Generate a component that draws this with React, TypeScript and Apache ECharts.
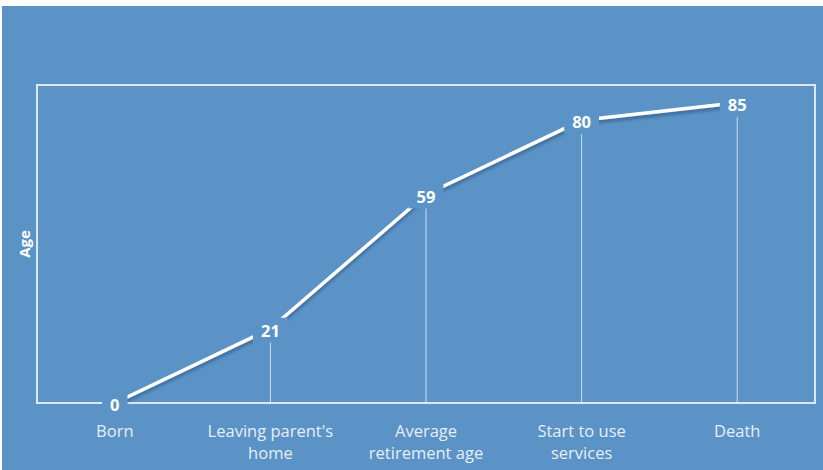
import React, { useEffect, useRef } from "react";
import * as echarts from "echarts";

const categories = [
  "Born",
  "Leaving parent's\nhome",
  "Average\nretirement age",
  "Start to use\nservices",
  "Death",
];
const ages = [0, 21, 59, 80, 85];
const axisName = "Age";

const BG = "#5b93c6";

export default function App() {
  const ref = useRef<HTMLDivElement>(null);
  useEffect(() => {
    if (!ref.current) return;
    const chart = echarts.init(ref.current, undefined, { renderer: "svg" });
    chart.setOption({
      animation: false,
      backgroundColor: BG,
      graphic: [
        { type: "rect", shape: { x: 0, y: 0, width: 823, height: 6 }, style: { fill: "#ffffff" }, z: 100 },
        { type: "rect", shape: { x: 0, y: 0, width: 2, height: 470 }, style: { fill: "#ffffff" }, z: 100 },
      ],
      grid: {
        left: 37,
        right: 8,
        top: 85,
        bottom: 67,
        show: true,
        backgroundColor: "transparent",
        borderColor: "#dbe8f4",
        borderWidth: 2,
      },
      xAxis: {
        type: "category",
        data: categories,
        boundaryGap: true,
        axisLine: { show: false },
        axisTick: { show: false },
        axisLabel: {
          color: "#e6eef8",
          fontSize: 16.5,
          lineHeight: 22,
          margin: 16,
          fontFamily: "Open Sans",
          interval: 0,
        },
      },
      yAxis: {
        type: "value",
        min: 0,
        max: 90,
        name: axisName,
        nameLocation: "middle",
        nameRotate: 90,
        nameGap: 6,
        nameTextStyle: { color: "#ffffff", fontSize: 15, fontWeight: "bold", fontFamily: "Open Sans" },
        axisLine: { show: false },
        axisTick: { show: false },
        axisLabel: { show: false },
        splitLine: { show: false },
      },
      series: [
        {
          type: "bar",
          data: ages,
          barWidth: 1,
          z: 1,
          itemStyle: { color: "rgba(255,255,255,0.7)" },
          silent: true,
        },
        {
          type: "line",
          data: ages,
          z: 3,
          symbol: "circle",
          symbolSize: 1,
          itemStyle: { color: "rgba(255,255,255,0)" },
          lineStyle: {
            color: "#ffffff",
            width: 3.5,
            shadowColor: "rgba(20,50,100,0.45)",
            shadowBlur: 3,
            shadowOffsetY: 3,
            shadowOffsetX: 0,
          },
          label: {
            show: true,
            position: "inside",
            offset: [0, 1.5],
            color: "#ffffff",
            fontSize: 16.5,
            fontWeight: "bold",
            fontFamily: "Open Sans",
            backgroundColor: BG,
            padding: [4, 8, 4, 8],
          },
        },
      ],
    });
    return () => chart.dispose();
  }, []);
  return (
    <div
      ref={ref}
      style={{ position: "fixed", left: 0, top: 0, width: 823, height: 470 }}
    />
  );
}
